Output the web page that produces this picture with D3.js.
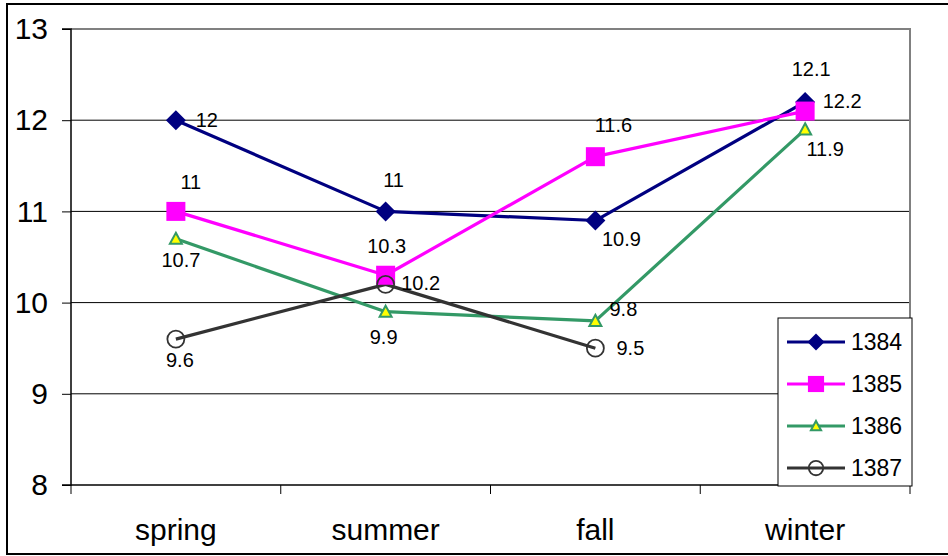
<!DOCTYPE html>
<html><head><meta charset="utf-8">
<script src="https://cdn.jsdelivr.net/npm/d3@7/dist/d3.min.js"></script>
<style>html,body{margin:0;padding:0;background:#fff;}svg{display:block;font-family:Arial,"Liberation Sans",sans-serif;}</style>
</head><body><svg id="c" width="948" height="556"></svg>
<script>
const categories = ["spring", "summer", "fall", "winter"];
const seriesNames = ["1384", "1385", "1386", "1387"];
const values1384 = [12, 11, 10.9, 12.2];
const values1385 = [11, 10.3, 11.6, 12.1];
const values1386 = [10.7, 9.9, 9.8, 11.9];
const values1387 = [9.6, 10.2, 9.5, null];
const yTicks = [8, 9, 10, 11, 12, 13];
// label offsets (dx, dy from point to text center)
const labelOffsets = [
  [[31,0],[8,-31],[26,18],[37,-1]],
  [[15,-29],[1,-29],[18,-32],[6,-42]],
  [[5,21],[-2,25],[28,-12],[20,20]],
  [[4,21],[35,-1],[35,0],[0,0]]
];

const colors = ["#000080", "#FF00FF", "#339966", "#333333"];
const svg = d3.select("#c");
const L = 71, R = 910, T = 29, B = 485;
const x = d3.scalePoint().domain(categories).range([L, R]).padding(0.5);
const y = d3.scaleLinear().domain([8, 13]).range([B, T]);
const allValues = [values1384, values1385, values1386, values1387];

// outer border
svg.append("rect").attr("x",7).attr("y",4).attr("width",960).attr("height",550)
  .attr("fill","none").attr("stroke","#000").attr("stroke-width",2);

// gridlines
svg.append("g").selectAll("line").data(yTicks.filter(t => t>8 && t<13)).join("line")
  .attr("x1",L).attr("x2",R).attr("y1",d=>y(d)).attr("y2",d=>y(d))
  .attr("stroke","#000").attr("stroke-width",1);
// plot border top/right
svg.append("path").attr("d",`M${L},${y(13)}H${R}V${B}`).attr("fill","none")
  .attr("stroke","#808080").attr("stroke-width",2);

// y axis
const yAxis = d3.axisLeft(y).tickValues(yTicks).tickSize(9).tickPadding(14).tickFormat(d3.format("d"));
const gy = svg.append("g").attr("transform",`translate(${L},0)`).call(yAxis);
gy.select(".domain").attr("stroke","#000").attr("stroke-width",1.5).attr("d",`M-9,${T}H0V${B}H-9`);
gy.selectAll(".tick line").attr("stroke","#000");
gy.selectAll("text").attr("font-size",30).attr("fill","#000").attr("font-family","Arial, 'Liberation Sans', sans-serif");

// x axis with ticks between categories
const step = x.step();
const xEdges = d3.range(categories.length+1).map(i => L + i*step);
svg.append("line").attr("x1",L).attr("x2",R).attr("y1",B).attr("y2",B).attr("stroke","#000").attr("stroke-width",1.5);
svg.append("g").selectAll("line").data(xEdges).join("line")
  .attr("x1",d=>d).attr("x2",d=>d).attr("y1",B).attr("y2",B+9).attr("stroke","#000");
svg.append("g").selectAll("text").data(categories).join("text")
  .attr("x",d=>x(d)).attr("y",B+55).attr("text-anchor","middle").attr("font-size",30).text(d=>d);

// lines
const line = d3.line().defined(d=>d.v!=null).x(d=>x(d.c)).y(d=>y(d.v));
allValues.forEach((vals,i)=>{
  const pts = vals.map((v,j)=>({c:categories[j], v}));
  svg.append("path").datum(pts).attr("d",line).attr("fill","none")
    .attr("stroke",colors[i]).attr("stroke-width",3.2).attr("stroke-linejoin","round");
});

function marker(g, i, cx, cy, scale=1){
  if(i===0){
    const s=10*scale;
    g.append("path").attr("d",`M${cx},${cy-s}L${cx+s},${cy}L${cx},${cy+s}L${cx-s},${cy}Z`).attr("fill",colors[0]);
  } else if(i===1){
    const s=9.5*scale;
    g.append("rect").attr("x",cx-s).attr("y",cy-s).attr("width",2*s).attr("height",2*s).attr("fill",colors[1]);
  } else if(i===2){
    const s=6*scale;
    g.append("path").attr("d",`M${cx},${cy-s}L${cx+s},${cy+s*0.85}L${cx-s},${cy+s*0.85}Z`)
      .attr("fill","#FFFF00").attr("stroke",colors[2]).attr("stroke-width",2);
  } else {
    g.append("circle").attr("cx",cx).attr("cy",cy).attr("r",8.5*scale).attr("fill","none")
      .attr("stroke",colors[3]).attr("stroke-width",1.8);
  }
}

// markers
const mg = svg.append("g");
allValues.forEach((vals,i)=>{
  vals.forEach((v,j)=>{ if(v!=null) marker(mg,i,x(categories[j]),y(v)); });
});

// data labels
const lg = svg.append("g");
allValues.forEach((vals,i)=>{
  vals.forEach((v,j)=>{
    if(v==null) return;
    const o = labelOffsets[i][j];
    lg.append("text").attr("x",x(categories[j])+o[0]).attr("y",y(v)+o[1])
      .attr("text-anchor","middle").attr("dominant-baseline","central")
      .attr("font-size",20).attr("fill","#000").text(v);
  });
});

// legend
const leg = svg.append("g");
leg.append("rect").attr("x",778).attr("y",318).attr("width",134).attr("height",168)
  .attr("fill","#fff").attr("stroke","#000").attr("stroke-width",1);
seriesNames.forEach((n,i)=>{
  const ly = 342 + i*42;
  leg.append("line").attr("x1",787).attr("x2",845).attr("y1",ly).attr("y2",ly)
    .attr("stroke",colors[i]).attr("stroke-width",3.2);
  marker(leg,i,816,ly,0.85);
  leg.append("text").attr("x",851).attr("y",ly).attr("dominant-baseline","central")
    .attr("font-size",23).text(n);
});
</script></body></html>
